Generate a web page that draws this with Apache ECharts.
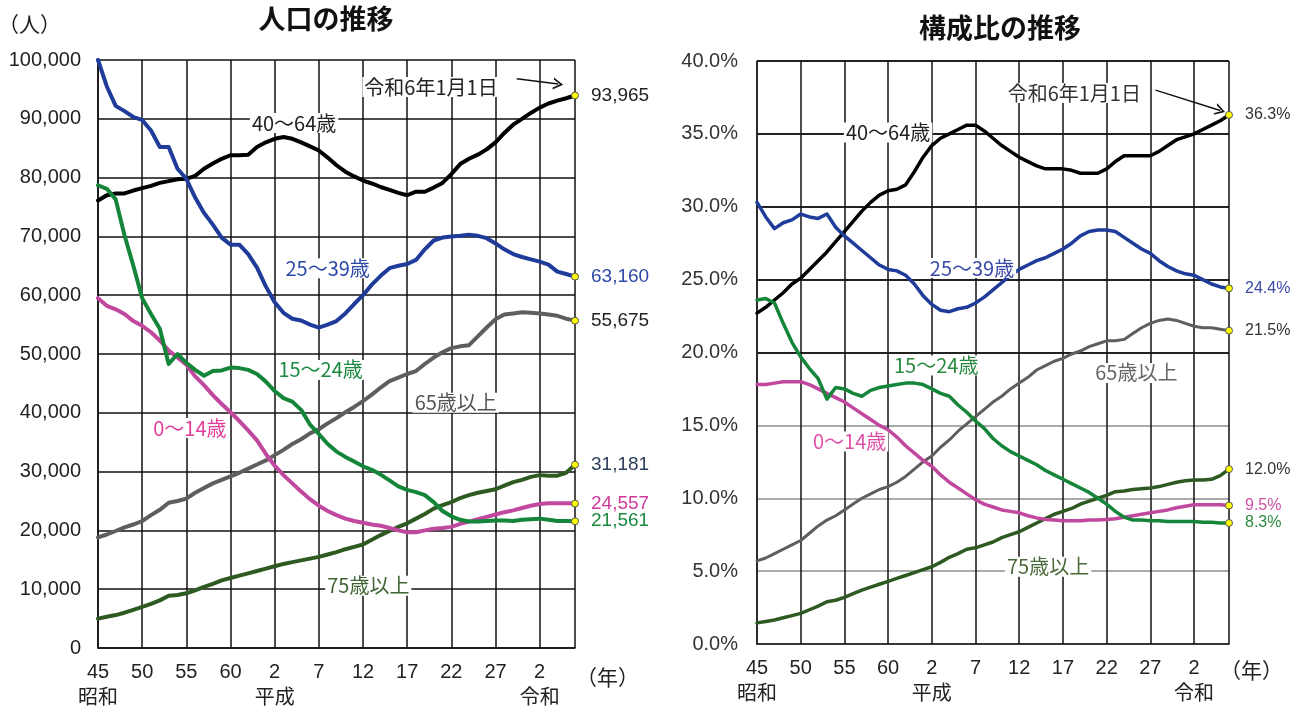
<!DOCTYPE html>
<html lang="ja">
<head>
<meta charset="utf-8">
<title>人口の推移・構成比の推移</title>
<script src="https://cdn.jsdelivr.net/npm/echarts@6/dist/echarts.min.js"></script>
<style>
  html, body { margin: 0; padding: 0; background: #fff; }
  #chart { width: 1309px; height: 711px; }
</style>
</head>
<body>
<div id="chart"></div>
<script>
// 年（西暦）
const years = [1970,1971,1972,1973,1974,1975,1976,1977,1978,1979,
  1980,1981,1982,1983,1984,1985,1986,1987,1988,1989,
  1990,1991,1992,1993,1994,1995,1996,1997,1998,1999,
  2000,2001,2002,2003,2004,2005,2006,2007,2008,2009,
  2010,2011,2012,2013,2014,2015,2016,2017,2018,2019,
  2020,2021,2022,2023,2024];

// 目盛り（和暦）
const tickYears = [1970,1975,1980,1985,1990,1995,2000,2005,2010,2015,2020];
const tickLabels = ['45','50','55','60','2','7','12','17','22','27','2'];
const eraLabels = ['昭和','','','','平成','','','','','','令和'];

// 人口（人）
const pop0014 = [59500,58200,57600,56800,55600,54800,53700,52300,50600,49400,
  48200,46200,44700,43000,41500,40100,38600,37000,35300,33000,
  31000,29400,28000,26600,25300,24200,23300,22600,22000,21600,
  21300,21000,20800,20400,20000,19700,19700,20000,20300,20400,
  20600,21100,21500,21900,22300,22700,23100,23400,23800,24200,
  24500,24600,24600,24600,24557];
const pop1524 = [78700,78100,76300,70200,65000,59500,56800,54300,48300,50000,
  48500,47300,46300,47100,47200,47700,47600,47300,46600,45300,
  43700,42500,41900,40500,38000,36400,34700,33400,32500,31700,
  30900,30300,29500,28500,27500,26900,26500,26000,24800,23300,
  22400,21800,21500,21500,21600,21700,21700,21600,21800,21900,
  22000,21800,21600,21600,21561];
const pop2539 = [100000,95500,92200,91300,90300,89800,88000,85200,85200,81500,
  79800,76600,74000,72000,69800,68600,68600,67000,64700,61500,
  58800,57000,56000,55700,55000,54500,55000,55600,56900,58500,
  60000,61800,63300,64600,65000,65300,66000,67800,69300,69800,
  70000,70100,70300,70100,69700,68800,67800,67000,66500,66100,
  65700,65200,64000,63600,63160];
const pop4064 = [76100,77000,77300,77300,77800,78200,78600,79100,79400,79700,
  79800,80300,81500,82400,83200,83800,83800,83900,85200,86000,
  86600,86900,86600,86000,85300,84600,83400,82100,81000,80200,
  79500,79000,78400,77900,77400,77000,77600,77600,78300,79100,
  80600,82300,83200,83900,84800,86000,87600,89000,90000,91000,
  91900,92600,93100,93500,93965];
const pop65 = [18800,19300,19900,20500,21000,21600,22600,23500,24700,25000,
  25400,26400,27200,28000,28600,29200,29800,30500,31200,31900,
  32800,33700,34700,35500,36500,37200,38200,39100,40100,41000,
  42000,43100,44300,45400,46000,46600,47100,48300,49400,50300,
  51000,51300,51500,53000,54500,55900,56700,56900,57100,57000,
  56900,56700,56500,56000,55675];
const pop75 = [5000,5300,5600,6000,6500,7000,7500,8100,8900,9000,
  9300,9800,10400,10900,11500,11900,12300,12700,13100,13500,
  13900,14300,14600,14900,15200,15500,15900,16300,16800,17200,
  17600,18400,19200,19900,20600,21200,22000,22800,23700,24300,
  24800,25500,26000,26400,26700,27000,27600,28200,28600,29100,
  29400,29300,29300,29800,31181];

// 構成比（%）
const share0014 = [17.8,17.8,17.9,18.0,18.0,18.0,17.8,17.5,17.2,16.9,
  16.6,16.2,15.8,15.4,15.0,14.7,14.2,13.6,13.1,12.6,
  12.2,11.6,11.1,10.7,10.3,9.9,9.6,9.4,9.2,9.1,
  9.0,8.8,8.65,8.55,8.5,8.45,8.45,8.45,8.5,8.5,
  8.55,8.6,8.7,8.8,8.9,9.0,9.1,9.2,9.35,9.45,
  9.55,9.55,9.55,9.55,9.5];
const share1524 = [23.6,23.7,23.4,22.0,20.7,19.7,18.9,18.2,16.8,17.6,
  17.5,17.2,17.0,17.4,17.6,17.7,17.8,17.9,17.9,17.8,
  17.5,17.2,17.0,16.4,15.9,15.3,14.8,14.1,13.6,13.2,
  12.9,12.6,12.3,11.9,11.6,11.3,11.0,10.7,10.4,10.0,
  9.6,9.1,8.7,8.5,8.5,8.45,8.45,8.4,8.4,8.4,
  8.4,8.35,8.35,8.3,8.3];
const share2539 = [30.3,29.3,28.5,28.9,29.1,29.5,29.3,29.2,29.5,28.6,
  28.0,27.5,27.0,26.5,26.0,25.7,25.6,25.3,24.7,23.9,
  23.3,22.9,22.8,23.0,23.1,23.4,23.8,24.3,24.8,25.3,
  25.7,26.0,26.3,26.5,26.8,27.1,27.5,28.0,28.3,28.4,
  28.4,28.3,27.9,27.5,27.1,26.8,26.3,25.9,25.6,25.4,
  25.3,25.0,24.7,24.5,24.4];
const share4064 = [22.7,23.1,23.6,24.1,24.7,25.1,25.7,26.3,26.9,27.6,
  28.3,29.0,29.7,30.3,30.8,31.1,31.2,31.5,32.4,33.4,
  34.2,34.7,35.0,35.3,35.6,35.6,35.2,34.7,34.2,33.8,
  33.4,33.1,32.8,32.6,32.6,32.6,32.5,32.3,32.3,32.3,
  32.6,33.1,33.5,33.5,33.5,33.5,33.8,34.2,34.6,34.8,
  35.0,35.3,35.6,35.9,36.3];
const share65 = [5.7,5.9,6.2,6.5,6.8,7.1,7.6,8.1,8.5,8.8,
  9.2,9.6,10.0,10.3,10.6,10.8,11.1,11.5,12.0,12.5,
  12.9,13.5,14.0,14.6,15.1,15.6,16.1,16.6,17.0,17.5,
  17.9,18.3,18.8,19.1,19.4,19.6,19.9,20.1,20.4,20.6,
  20.8,20.8,20.9,21.3,21.7,22.0,22.2,22.3,22.2,22.0,
  21.8,21.7,21.7,21.6,21.5];
const share75 = [1.45,1.55,1.65,1.8,1.95,2.1,2.35,2.6,2.9,3.0,
  3.2,3.45,3.7,3.9,4.1,4.3,4.5,4.7,4.9,5.1,
  5.3,5.6,5.95,6.2,6.5,6.6,6.8,7.0,7.3,7.5,
  7.7,8.0,8.3,8.6,8.9,9.1,9.3,9.6,9.8,10.0,
  10.2,10.45,10.5,10.6,10.65,10.7,10.8,10.95,11.1,11.2,
  11.25,11.25,11.3,11.55,12.0];

const NUM_FONT = "'Liberation Sans', Arial, 'Noto Sans CJK JP', sans-serif";
const JP_FONT = "'Noto Sans CJK JP', 'Liberation Sans', sans-serif";
const ARROW = 'path://M0,10 L5,0 L10,10 L8.4,10 L5,3.2 L1.6,10 Z';
const last = years.length - 1;

const chart = echarts.init(document.getElementById('chart'));

function xAxisFor(gridIndex) {
  return {
    type: 'value', gridIndex: gridIndex, min: 1970, max: 2024, interval: 5,
    axisLine: { show: true, lineStyle: { color: '#111', width: 1.5 } },
    axisTick: { show: false },
    splitLine: { show: true, lineStyle: { color: '#111', width: 1.5 } },
    axisLabel: {
      margin: 11, color: '#222', fontFamily: NUM_FONT, fontSize: 20, lineHeight: 26,
      formatter: function (v) {
        const i = tickYears.indexOf(v);
        if (i < 0) return '';
        return eraLabels[i] ? tickLabels[i] + '\n' + eraLabels[i] : tickLabels[i];
      }
    }
  };
}

// 折れ線1本分
function line(name, values, gi, color, width, endColor, endSize, fmt, labels) {
  return {
    type: 'line', name: name, xAxisIndex: gi, yAxisIndex: gi,
    data: years.map((y, i) => [y, values[i]]),
    showSymbol: true, showAllSymbol: true,
    symbol: (v, p) => p.dataIndex === last ? 'circle' : 'none',
    symbolSize: 7,
    itemStyle: { color: '#ffff00', borderColor: '#555', borderWidth: 1 },
    lineStyle: { color: color, width: width, cap: 'round', join: 'round' },
    endLabel: { show: true, distance: 16, color: endColor, fontSize: endSize, fontFamily: NUM_FONT, formatter: p => fmt(p.value[1]) },
    markPoint: {
      silent: true, symbol: 'rect', symbolSize: 1,
      itemStyle: { color: 'rgba(0,0,0,0)' },
      label: { show: true, position: 'inside', fontFamily: JP_FONT, fontSize: 20, backgroundColor: '#fff', padding: [0, 2] },
      data: labels
    },
    z: 3
  };
}

const popFmt = v => v.toLocaleString('en-US');
const pctFmt = v => v.toFixed(1) + '%';
const lbl = (x, y, text, color) => ({ coord: [x, y], label: { formatter: text, color: color } });

const s4064 = line('40～64歳', pop4064, 0, '#000', 4, '#222', 19, popFmt,
  [lbl(1992.2, 89300, '40～64歳', '#222'), lbl(2007.7, 95400, '令和6年1月1日', '#222')]);
s4064.markLine = {
  silent: true, symbol: ['none', ARROW], symbolSize: [12, 10],
  lineStyle: { color: '#111', width: 1.5, type: 'solid' }, label: { show: false },
  data: [[{ coord: [2017.4, 96800] }, { coord: [2022.1, 95900] }]]
};
const r4064 = line('40～64歳', share4064, 1, '#000', 3.5, '#333', 16, pctFmt,
  [lbl(1985.0, 35.1, '40～64歳', '#222'), lbl(2006.3, 37.8, '令和6年1月1日', '#333')]);
r4064.markLine = {
  silent: true, symbol: ['none', ARROW], symbolSize: [12, 10],
  lineStyle: { color: '#111', width: 1.5, type: 'solid' }, label: { show: false },
  data: [[{ coord: [2015.6, 38.0] }, { coord: [2023.0, 36.6] }]]
};

const option = {
  animation: false,
  backgroundColor: '#fff',
  grid: [
    { left: 98, top: 60, width: 477, height: 588 },
    { left: 757, top: 61, width: 472, height: 583 }
  ],
  xAxis: [xAxisFor(0), xAxisFor(1)],
  yAxis: [
    {
      type: 'value', gridIndex: 0, min: 0, max: 100000, interval: 10000,
      axisLine: { show: true, lineStyle: { color: '#111', width: 1.5 } },
      axisTick: { show: false },
      splitLine: { lineStyle: { color: '#111', width: 1.5 } },
      axisLabel: { margin: 17, color: '#222', fontFamily: NUM_FONT, fontSize: 20, formatter: popFmt }
    },
    {
      type: 'value', gridIndex: 1, min: 0, max: 40, interval: 5,
      axisLine: { show: true, lineStyle: { color: '#222', width: 1.5 } },
      axisTick: { show: false },
      splitLine: { lineStyle: { color: ['#aaa', '#aaa', '#aaa', '#aaa', '#222', '#222', '#222', '#222', '#222'], width: 1.8 } },
      axisLabel: { margin: 19, color: '#333', fontFamily: NUM_FONT, fontSize: 20, formatter: pctFmt }
    }
  ],
  graphic: [
    { type: 'text', x: 326, y: 19, style: { text: '人口の推移', align: 'center', verticalAlign: 'middle', font: 'bold 27px ' + JP_FONT, fill: '#111' } },
    { type: 'text', x: 1000, y: 28, style: { text: '構成比の推移', align: 'center', verticalAlign: 'middle', font: 'bold 27px ' + JP_FONT, fill: '#111' } },
    { type: 'text', x: -2, y: 24, style: { text: '（人）', align: 'left', verticalAlign: 'middle', font: '21px ' + JP_FONT, fill: '#222' } },
    { type: 'text', x: 576, y: 677, style: { text: '（年）', align: 'left', verticalAlign: 'middle', font: '21px ' + JP_FONT, fill: '#222' } },
    { type: 'text', x: 1220, y: 670, style: { text: '（年）', align: 'left', verticalAlign: 'middle', font: '21px ' + JP_FONT, fill: '#222' } }
  ],
  series: [
    s4064,
    line('25～39歳', pop2539, 0, '#1f3c9a', 4, '#2e4aa8', 19, popFmt, [lbl(1996.0, 64600, '25～39歳', '#2e4aa8')]),
    line('65歳以上', pop65, 0, '#5e5e5e', 4, '#222', 19, popFmt, [lbl(2010.5, 41700, '65歳以上', '#555')]),
    line('75歳以上', pop75, 0, '#2e5a22', 4, '#2a3f5a', 19, popFmt, [lbl(2000.6, 10600, '75歳以上', '#3f6434')]),
    line('0～14歳', pop0014, 0, '#c0489e', 4, '#d03a9a', 19, popFmt, [lbl(1980.4, 37400, '0～14歳', '#e0409a')]),
    line('15～24歳', pop1524, 0, '#15853a', 4, '#1a8a40', 19, popFmt, [lbl(1995.2, 47300, '15～24歳', '#1a8a40')]),
    r4064,
    line('25～39歳', share2539, 1, '#1f3c9a', 3.5, '#3a4aa8', 16, pctFmt, [lbl(1994.6, 25.8, '25～39歳', '#3a4aa8')]),
    line('65歳以上', share65, 1, '#5e5e5e', 3, '#333', 16, pctFmt, [lbl(2013.4, 18.6, '65歳以上', '#666')]),
    line('75歳以上', share75, 1, '#2e5a22', 3.5, '#333', 16, pctFmt, [lbl(2003.3, 5.3, '75歳以上', '#4a6a3a')]),
    line('0～14歳', share0014, 1, '#c0489e', 3.5, '#d050a8', 16, pctFmt, [lbl(1980.6, 13.9, '0～14歳', '#e050a8')]),
    line('15～24歳', share1524, 1, '#15853a', 3.5, '#2a8a40', 16, pctFmt, [lbl(1990.5, 19.1, '15～24歳', '#2a8a40')])
  ]
};

chart.setOption(option);
</script>
</body>
</html>
